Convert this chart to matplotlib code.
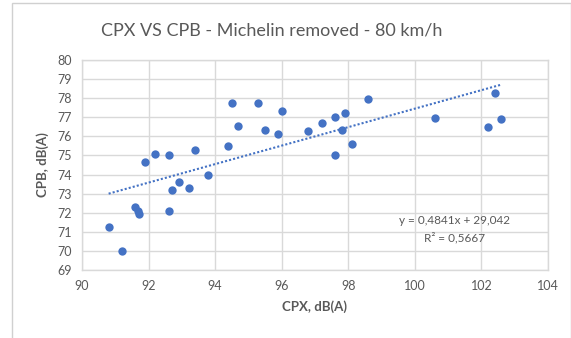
import matplotlib
matplotlib.use("Agg")
import matplotlib.pyplot as plt
from matplotlib.patches import Rectangle
import numpy as np

plt.rcParams['font.family'] = ['Lato', 'DejaVu Sans']

# CPX vs CPB measurements, dB(A)
cpx = [90.8, 91.2, 91.6, 91.67, 91.7, 92.6, 91.9, 92.2, 92.6, 93.4, 93.8,
       92.9, 92.7, 93.2, 94.5, 94.4, 94.7, 95.3, 95.5, 96.0, 95.9, 96.8,
       97.2, 97.6, 97.9, 97.8, 98.1, 97.6, 98.6, 100.6, 102.4, 102.2, 102.6]
cpb = [71.25, 70.0, 72.3, 72.1, 71.95, 72.1, 74.65, 75.1, 75.0, 75.3, 74.0,
       73.6, 73.2, 73.3, 77.75, 75.5, 76.55, 77.75, 76.35, 77.35, 76.1, 76.3,
       76.7, 77.0, 77.2, 76.35, 75.6, 75.0, 77.95, 76.95, 78.25, 76.5, 76.9]

# Linear trendline coefficients
slope = 0.4841
intercept = 29.042
r_squared = 0.5667

x_ticks = [90, 92, 94, 96, 98, 100, 102, 104]
y_ticks = list(range(69, 81))

blue = '#4472C4'
grid_c = '#D9D9D9'
text_c = '#595959'

fig = plt.figure(figsize=(5.71, 3.38), dpi=100)
fig.patch.set_facecolor('white')

# chart-area border
fig.add_artist(Rectangle((12 / 571, -0.05), (571 - 12.5) / 571, 1 - 3 / 338 + 0.05,
                         transform=fig.transFigure, fill=False,
                         edgecolor='#D0D0D0', linewidth=1.0))

ax = fig.add_axes([82 / 571, 1 - 270 / 338, (548 - 82) / 571, (270 - 60) / 338])
ax.set_xlim(90, 104)
ax.set_ylim(69, 80)
ax.set_xticks(x_ticks)
ax.set_yticks(y_ticks)
ax.grid(True, color=grid_c, linewidth=1.0)
ax.set_axisbelow(True)
for s in ax.spines.values():
    s.set_color(grid_c)
    s.set_linewidth(1.0)
ax.tick_params(length=0, colors=text_c, labelsize=9, pad=7)

ax.scatter(cpx, cpb, s=36, color=blue, zorder=3, linewidths=0)

xl = np.array([min(cpx), max(cpx)])
ax.plot(xl, slope * xl + intercept, linestyle=(0, (1, 1)), color=blue,
        linewidth=1.5, zorder=2)

eq = f"y = {slope:.4f}x + {intercept:.3f}".replace('.', ',')
r2 = f"R² = {r_squared:.4f}".replace('.', ',')
ax.text(101.2, 71.6, eq, ha='center', va='center', fontsize=8.5, color=text_c)
ax.text(101.2, 70.7, r2, ha='center', va='center', fontsize=8.5, color=text_c)

ax.set_xlabel('CPX, dB(A)', fontsize=9.5, fontweight='bold', color=text_c, labelpad=6)
ax.set_ylabel('CPB, dB(A)', fontsize=9.5, fontweight='bold', color=text_c, labelpad=6)

fig.text(272 / 571, 1 - 31 / 338, 'CPX VS CPB - Michelin removed - 80 km/h',
         ha='center', va='center', fontsize=13, color=text_c)

fig.savefig('out.png', dpi=100)
